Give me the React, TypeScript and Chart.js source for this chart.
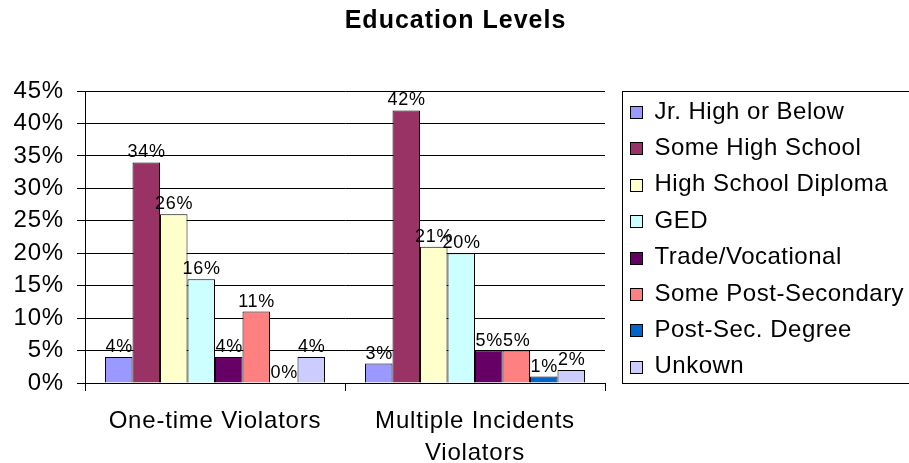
import React, { useEffect, useRef } from 'react';
import { Chart, registerables } from 'chart.js';

Chart.register(...registerables);

// Category groups (multi-line labels are arrays)
const groups: string[][] = [['One-time Violators'], ['Multiple Incidents', 'Violators']];

// Education levels, one bar series each
const levels = [
  'Jr. High or Below',
  'Some High School',
  'High School Diploma',
  'GED',
  'Trade/Vocational',
  'Some Post-Secondary',
  'Post-Sec. Degree',
  'Unkown',
];

const levelColors = ['#9999FF', '#993366', '#FFFFCC', '#CCFFFF', '#660066', '#FF8080', '#0066CC', '#CCCCFF'];

// Percent of violators per level
const oneTimeValues = [4, 34, 26, 16, 4, 11, 0, 4];
const multipleValues = [3, 42, 21, 20, 5, 5, 1, 2];

const titleText = 'Education Levels';
const yMax = 45;
const yStep = 5;

const FONT = 'Arial, "Liberation Sans", sans-serif';

const textPlugin = {
  id: 'educationText',
  beforeDraw(chart: any) {
    // slightly wider letter spacing for axis text
    chart.ctx.letterSpacing = '0.8px';
  },
  afterDraw(chart: any) {
    const ctx = chart.ctx;
    const area = chart.chartArea;
    ctx.save();

    // value labels above each bar
    ctx.letterSpacing = '0.7px';
    ctx.font = `18px ${FONT}`;
    ctx.fillStyle = '#000';
    ctx.textAlign = 'center';
    ctx.textBaseline = 'alphabetic';
    chart.data.datasets.forEach((ds: any, i: number) => {
      const meta = chart.getDatasetMeta(i);
      meta.data.forEach((bar: any, j: number) => {
        ctx.fillText(`${ds.data[j]}%`, bar.x + 0.4, bar.y - 5);
      });
    });

    // legend box to the right of the plot
    const left = Math.round(area.right + 17) + 0.5;
    const top = Math.round(area.top) + 0.5;
    const bottom = Math.round(area.bottom) + 0.5;
    ctx.strokeStyle = '#000';
    ctx.lineWidth = 1;
    ctx.strokeRect(left, top, chart.width - left + 20, bottom - top);

    ctx.letterSpacing = '0.5px';
    ctx.font = `24px ${FONT}`;
    ctx.textAlign = 'left';
    ctx.textBaseline = 'middle';
    chart.data.datasets.forEach((ds: any, i: number) => {
      const cy = area.top + 21 + i * 36.4;
      const sy = Math.round(cy - 6) + 0.5;
      ctx.fillStyle = ds.backgroundColor;
      ctx.fillRect(left + 8, sy, 12, 12);
      ctx.strokeStyle = '#000';
      ctx.strokeRect(left + 8, sy, 12, 12);
      ctx.fillStyle = '#000';
      ctx.fillText(ds.label, left + 32, cy);
    });

    // chart title
    ctx.letterSpacing = '1px';
    ctx.font = `bold 25px ${FONT}`;
    ctx.textAlign = 'center';
    ctx.textBaseline = 'middle';
    ctx.fillStyle = '#000';
    ctx.fillText(titleText, chart.width / 2 + 1, 21);

    ctx.restore();
  },
};

export default function App() {
  const canvasRef = useRef<HTMLCanvasElement | null>(null);

  useEffect(() => {
    const canvas = canvasRef.current;
    if (!canvas) return;

    const datasets = levels.map((label, i) => ({
      label,
      data: [oneTimeValues[i], multipleValues[i]],
      backgroundColor: levelColors[i],
      borderColor: '#000',
      borderWidth: 1,
      categoryPercentage: 0.846,
      barPercentage: 1,
    }));

    const chart = new Chart(canvas, {
      type: 'bar',
      data: { labels: groups as any, datasets },
      options: {
        responsive: false,
        animation: false,
        devicePixelRatio: 1,
        layout: { padding: { top: 91, right: 304, left: 0, bottom: 0 } },
        plugins: {
          legend: { display: false },
          title: { display: false },
          tooltip: { enabled: false },
        },
        scales: {
          x: {
            grid: {
              display: true,
              drawOnChartArea: false,
              drawTicks: true,
              tickLength: 8,
              color: '#000',
              offset: true,
            },
            border: { display: true, color: '#000', width: 1 },
            ticks: {
              color: '#000',
              font: { family: FONT, size: 24, lineHeight: 32 / 24 },
              padding: 14,
              maxRotation: 0,
              autoSkip: false,
            },
            afterFit: (scale: any) => {
              scale.height = 80;
            },
          },
          y: {
            min: 0,
            max: yMax,
            ticks: {
              stepSize: yStep,
              callback: (v: any) => `${v}%`,
              color: '#000',
              font: { family: FONT, size: 24 },
              padding: 13,
            },
            grid: { color: '#000', tickLength: 8, drawTicks: true },
            border: { display: true, color: '#000', width: 1 },
            afterFit: (scale: any) => {
              scale.width = 85;
            },
          },
        },
      },
      plugins: [textPlugin],
    });

    return () => chart.destroy();
  }, []);

  return (
    <div style={{ position: 'fixed', left: 0, top: 0, width: 909, height: 463, background: '#fff' }}>
      <canvas ref={canvasRef} width={909} height={463} style={{ width: 909, height: 463 }} />
    </div>
  );
}
